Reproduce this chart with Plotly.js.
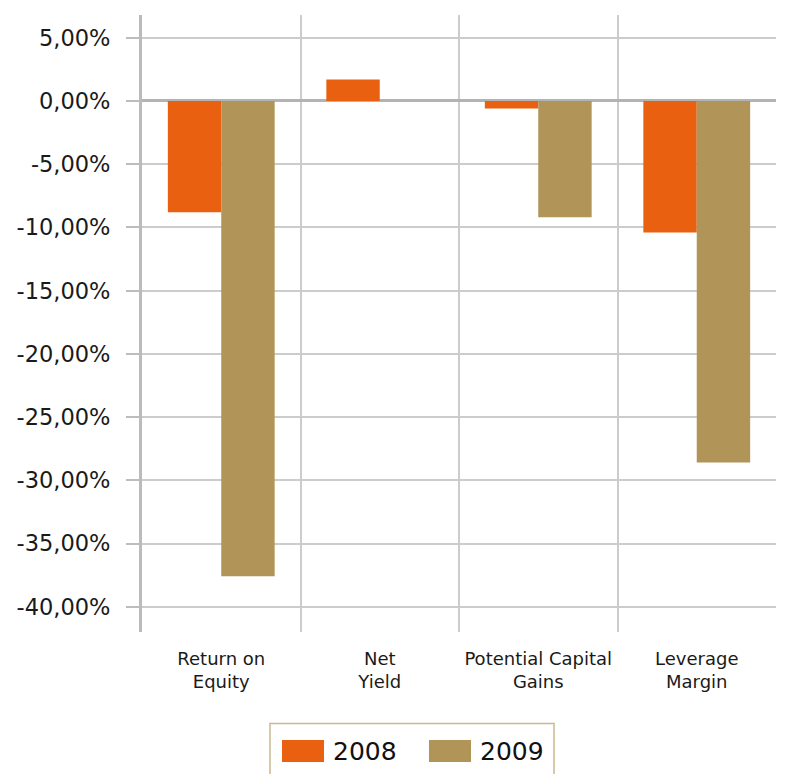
<!DOCTYPE html>
<html>
<head>
<meta charset="utf-8">
<script src="https://cdn.plot.ly/plotly-3.0.1.min.js"></script>
<style>
  html, body { margin: 0; padding: 0; background: #ffffff; }
  #chart { width: 792px; height: 774px; }
</style>
</head>
<body>
<div id="chart"></div>
<script>
// Return decomposition, 2008 vs 2009 (values in %)
const categories = ['Return on<br>Equity', 'Net<br>Yield', 'Potential Capital<br>Gains', 'Leverage<br>Margin'];
const seriesNames = ['2008', '2009'];
const values2008 = [-8.8, 1.7, -0.6, -10.4];
const values2009 = [-37.6, 0.0, -9.2, -28.6];
const seriesColors = ['#E96010', '#B09458'];

const yTickVals = [5, 0, -5, -10, -15, -20, -25, -30, -35, -40];
const yTickText = ['5,00%', '0,00%', '-5,00%', '-10,00%', '-15,00%', '-20,00%', '-25,00%', '-30,00%', '-35,00%', '-40,00%'];

const W = 792, H = 774;
const M = { l: 142, r: 16, t: 15, b: 142 };
const plotW = W - M.l - M.r, plotH = H - M.t - M.b;
// pixel -> paper coordinates for the hand-drawn legend box
const px = x => (x - M.l) / plotW;
const py = y => (H - M.b - y) / plotH;

const traces = [values2008, values2009].map((vals, i) => ({
  type: 'bar',
  name: seriesNames[i],
  x: categories,
  y: vals,
  marker: { color: seriesColors[i], line: { width: 0 } },
  hoverinfo: 'skip',
  showlegend: false
}));

const font = "'DejaVu Sans', sans-serif";

// legend: bordered box with two swatches and labels
const shapes = [
  { type: 'rect', xref: 'paper', yref: 'paper', x0: px(270), x1: px(554), y0: py(723.5), y1: py(790),
    line: { color: '#C9B98E', width: 1.5 }, fillcolor: 'rgba(0,0,0,0)', layer: 'above' },
  { type: 'rect', xref: 'paper', yref: 'paper', x0: px(282), x1: px(324), y0: py(740), y1: py(762),
    line: { width: 0 }, fillcolor: seriesColors[0] },
  { type: 'rect', xref: 'paper', yref: 'paper', x0: px(429), x1: px(471), y0: py(740), y1: py(762),
    line: { width: 0 }, fillcolor: seriesColors[1] }
];
const annotations = [
  { text: seriesNames[0], xref: 'paper', yref: 'paper', x: px(331), y: py(751), xanchor: 'left', yanchor: 'middle',
    showarrow: false, font: { family: font, size: 25, color: '#111111' } },
  { text: seriesNames[1], xref: 'paper', yref: 'paper', x: px(478), y: py(751), xanchor: 'left', yanchor: 'middle',
    showarrow: false, font: { family: font, size: 25, color: '#111111' } }
];

const layout = {
  width: W, height: H,
  margin: M,
  paper_bgcolor: '#ffffff',
  plot_bgcolor: '#ffffff',
  barmode: 'group',
  bargap: 0.326,
  bargroupgap: 0,
  showlegend: false,
  font: { family: font, color: '#1a1a1a' },
  xaxis: {
    type: 'category',
    tickson: 'boundaries',
    showgrid: true,
    gridcolor: '#cccccc',
    gridwidth: 2,
    ticks: '',
    ticklabelstandoff: 14,
    tickfont: { family: font, size: 18, color: '#1a1a1a' },
    showline: false,
    zeroline: false,
    fixedrange: true
  },
  yaxis: {
    range: [-42, 6.8],
    tickmode: 'array',
    tickvals: yTickVals,
    ticktext: yTickText,
    tickfont: { family: font, size: 22.5, color: '#1a1a1a' },
    ticks: 'outside',
    ticklen: 13,
    tickwidth: 2,
    tickcolor: '#bdbdbd',
    ticklabelstandoff: 11,
    showgrid: true,
    gridcolor: '#cccccc',
    gridwidth: 2,
    zeroline: true,
    zerolinecolor: '#b3b3b3',
    zerolinewidth: 3,
    showline: true,
    linecolor: '#bbbbbb',
    linewidth: 3,
    fixedrange: true
  },
  shapes: shapes,
  annotations: annotations
};

Plotly.newPlot('chart', traces, layout, { displayModeBar: false, staticPlot: true });
</script>
</body>
</html>
